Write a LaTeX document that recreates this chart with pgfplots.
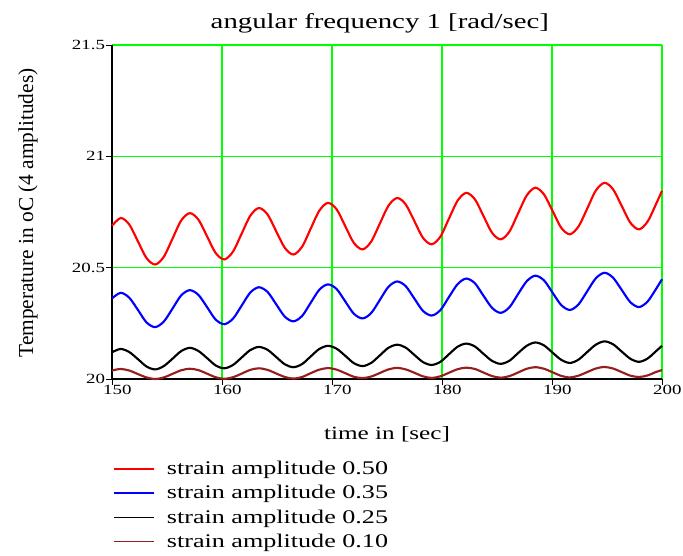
\documentclass[border=0pt]{standalone}
\usepackage{fontspec}
\setmainfont{Liberation Serif}[FakeStretch=1.35]
\newfontfamily\plainserif{Liberation Serif}
\usepackage{pgfplots}
\usepackage{pgfplotstable}
\pgfplotsset{compat=1.18}
\definecolor{darkred}{RGB}{150,30,30}

% temperature readings, 4 strain amplitudes
\pgfplotstableread{
x      r      b      k      d
150.00 20.688 20.362 20.120 20.038
150.79 20.723 20.387 20.135 20.045
151.57 20.694 20.365 20.121 20.038
152.36 20.618 20.310 20.089 20.022
153.14 20.543 20.254 20.056 20.007
153.93 20.514 20.233 20.043 20.000
154.71 20.549 20.258 20.058 20.007
155.50 20.630 20.316 20.091 20.023
156.28 20.711 20.375 20.125 20.039
157.07 20.745 20.399 20.140 20.046
157.85 20.716 20.378 20.126 20.040
158.64 20.641 20.323 20.094 20.024
159.42 20.566 20.267 20.061 20.008
160.21 20.537 20.246 20.048 20.001
161.00 20.572 20.271 20.063 20.008
161.78 20.652 20.329 20.096 20.024
162.57 20.733 20.388 20.130 20.041
163.35 20.768 20.412 20.144 20.048
164.14 20.739 20.391 20.131 20.041
164.92 20.664 20.336 20.099 20.025
165.71 20.589 20.280 20.066 20.009
166.49 20.559 20.259 20.053 20.002
167.28 20.594 20.283 20.067 20.009
168.06 20.675 20.342 20.101 20.026
168.85 20.756 20.401 20.135 20.042
169.63 20.791 20.425 20.149 20.049
170.42 20.762 20.404 20.136 20.042
171.21 20.686 20.348 20.104 20.026
171.99 20.611 20.293 20.071 20.010
172.78 20.582 20.272 20.058 20.004
173.56 20.617 20.296 20.072 20.011
174.35 20.698 20.355 20.106 20.027
175.13 20.778 20.414 20.140 20.043
175.92 20.813 20.438 20.154 20.050
176.70 20.784 20.417 20.141 20.043
177.49 20.709 20.361 20.108 20.028
178.27 20.634 20.306 20.076 20.012
179.06 20.605 20.285 20.063 20.005
179.85 20.639 20.309 20.077 20.012
180.63 20.720 20.368 20.111 20.028
181.42 20.801 20.426 20.145 20.044
182.20 20.836 20.451 20.159 20.051
182.99 20.807 20.430 20.146 20.045
183.77 20.732 20.374 20.113 20.029
184.56 20.656 20.319 20.081 20.013
185.34 20.627 20.297 20.068 20.006
186.13 20.662 20.322 20.082 20.013
186.91 20.743 20.381 20.116 20.029
187.70 20.824 20.439 20.149 20.046
188.48 20.859 20.464 20.164 20.053
189.27 20.829 20.443 20.151 20.046
190.06 20.754 20.387 20.118 20.030
190.84 20.679 20.332 20.086 20.014
191.63 20.650 20.310 20.072 20.007
192.41 20.685 20.335 20.087 20.015
193.20 20.765 20.394 20.121 20.031
193.98 20.846 20.452 20.154 20.047
194.77 20.881 20.477 20.169 20.054
195.55 20.852 20.455 20.156 20.047
196.34 20.777 20.400 20.123 20.031
197.12 20.702 20.345 20.091 20.015
197.91 20.672 20.323 20.077 20.009
198.69 20.707 20.348 20.092 20.016
199.48 20.788 20.406 20.126 20.032
200.00 20.845 20.448 20.149 20.040
}\temps

\begin{document}
\begin{tikzpicture}
\useasboundingbox (-84pt,-132.75pt) rectangle (428.25pt,284.25pt);
\begin{axis}[
    at={(0pt,0pt)}, anchor=south west,
    scale only axis, width=412.5pt, height=250.5pt,
    xmin=150, xmax=200, ymin=20, ymax=21.5,
    xtick={150,160,...,200}, ytick={20,20.5,21,21.5},
    yticklabels={20,20.5,21,21.5},
    axis x line=bottom, axis y line=left,
    axis line style={-, black, line width=0.8pt},
    grid=major, major grid style={green, line width=1.1pt},
    tick align=outside, major tick length=4.5pt,
    tick style={black, line width=0.6pt},
    /pgf/number format/assume math mode=true,
    ticklabel style={font=\fontsize{10.5}{11}\selectfont},
    yticklabel style={inner sep=0.5pt},
    xticklabel style={inner sep=0pt, xshift=4pt},
    title={angular frequency 1 [rad/sec]},
    title style={at={(0.487,1.054)}, anchor=base, yshift=-7.5pt,
        font=\fontsize{16}{18}\selectfont},
    xlabel={time in [sec]},
    xlabel style={at={(0.5,-0.1826)}, anchor=base, font=\fontsize{14}{16}\selectfont},
    ylabel={Temperature in oC (4 amplitudes)},
    ylabel style={at={(-0.1436,0.497)}, anchor=base,
        font=\plainserif\fontsize{16}{18}\selectfont},
    clip=false,
    legend style={at={(0.0018,-0.2375)}, anchor=north west, draw=none, fill=none,
        inner sep=0pt, font=\fontsize{14.5}{16}\selectfont, row sep=2.6pt},
    legend cell align=left,
    legend image code/.code={\draw[#1, line width=1.3pt] (0pt,0pt) -- (30pt,0pt);},
    every axis plot/.append style={smooth, no markers, line width=1.6pt},
]
\addplot [red] table [x=x, y=r] {\temps};
\addlegendentry{\hspace{7pt}strain amplitude 0.50}
\addplot [blue] table [x=x, y=b] {\temps};
\addlegendentry{\hspace{7pt}strain amplitude 0.35}
\addplot [black] table [x=x, y=k] {\temps};
\addlegendentry{\hspace{7pt}strain amplitude 0.25}
\addplot [darkred] table [x=x, y=d] {\temps};
\addlegendentry{\hspace{7pt}strain amplitude 0.10}
\end{axis}
\end{tikzpicture}
\end{document}
